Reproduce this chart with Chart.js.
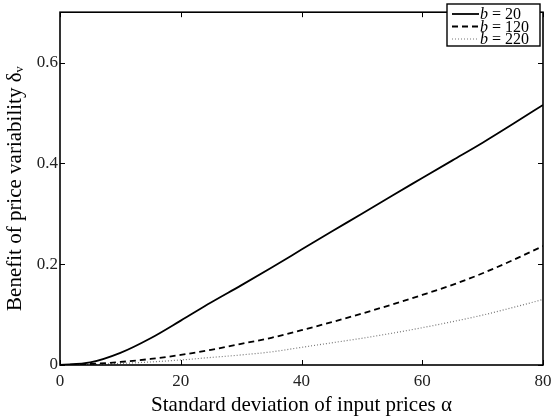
<!DOCTYPE html>
<html lang="en">
<head>
  <meta charset="UTF-8">
  <title>Benefit of price variability</title>
  <script src="https://cdn.jsdelivr.net/npm/chart.js"></script>
  <style>
    body {
      margin: 0;
      background-color: white;
    }
    #wrap {
      width: 552px;
      height: 419px;
    }
  </style>
  <script>
    // standard deviation of input prices (alpha)
    const alpha = [0, 5, 10, 15, 20, 25, 30, 35, 40, 45, 50, 55, 60, 65, 70, 75, 80];
    // benefit of price variability, one array per b
    const b20  = [0, 0.005, 0.024, 0.053, 0.088, 0.124, 0.158, 0.193, 0.229, 0.265, 0.300, 0.336, 0.371, 0.406, 0.441, 0.478, 0.516];
    const b120 = [0, 0.002, 0.006, 0.012, 0.020, 0.030, 0.042, 0.054, 0.069, 0.085, 0.102, 0.120, 0.139, 0.159, 0.182, 0.208, 0.236];
    const b220 = [0, 0.001, 0.003, 0.006, 0.010, 0.015, 0.020, 0.026, 0.035, 0.044, 0.053, 0.063, 0.074, 0.086, 0.099, 0.114, 0.130];
    const seriesNames = ["20", "120", "220"];
    const xTicks = [0, 20, 40, 60, 80];
    const yTicks = [0, 0.2, 0.4, 0.6];

    const serif = "'Liberation Serif', 'DejaVu Serif', serif";

    function punkte(werte) {
      return alpha.map((a, i) => ({ x: a, y: werte[i] }));
    }

    // frame, inward tick marks and boxed legend, like the matlab figure
    const rahmen = {
      id: "rahmen",
      afterDraw(chart) {
        const ctx = chart.ctx;
        const a = chart.chartArea;
        const xs = chart.scales.x, ys = chart.scales.y;
        ctx.save();
        ctx.strokeStyle = "black";
        ctx.lineWidth = 1;
        xTicks.forEach(v => {
          const px = Math.round(xs.getPixelForValue(v)) + 0.5;
          ctx.beginPath();
          ctx.moveTo(px, a.bottom); ctx.lineTo(px, a.bottom - 5);
          ctx.moveTo(px, a.top); ctx.lineTo(px, a.top + 5);
          ctx.stroke();
        });
        yTicks.forEach(v => {
          const py = Math.round(ys.getPixelForValue(v)) + 0.5;
          ctx.beginPath();
          ctx.moveTo(a.left, py); ctx.lineTo(a.left + 5, py);
          ctx.moveTo(a.right, py); ctx.lineTo(a.right - 5, py);
          ctx.stroke();
        });
        ctx.lineWidth = 1.6;
        ctx.strokeRect(a.left, a.top, a.right - a.left, a.bottom - a.top);

        // legend box
        const lx = 447, ly = 4, lw = 93, lh = 42;
        ctx.fillStyle = "white";
        ctx.fillRect(lx, ly, lw, lh);
        ctx.lineWidth = 1.4;
        ctx.strokeRect(lx, ly, lw, lh);
        chart.data.datasets.forEach((ds, i) => {
          const y = ly + 10 + i * 12.5;
          ctx.beginPath();
          ctx.strokeStyle = ds.borderColor;
          ctx.lineWidth = ds.borderWidth;
          ctx.setLineDash(ds.borderDash || []);
          ctx.moveTo(lx + 5, y);
          ctx.lineTo(lx + 32, y);
          ctx.stroke();
          ctx.setLineDash([]);
          ctx.fillStyle = "black";
          ctx.textBaseline = "middle";
          ctx.textAlign = "left";
          ctx.font = "italic 16px " + serif;
          ctx.fillText("b", lx + 33, y + 1);
          ctx.font = "16px " + serif;
          ctx.fillText(" = " + seriesNames[i], lx + 41, y + 1);
        });
        ctx.restore();
      }
    };

    window.onload = () => {
      new Chart(document.getElementById("grafico"), {
        type: "line",
        data: {
          datasets: [
            {
              label: "b = " + seriesNames[0],
              data: punkte(b20),
              borderColor: "black",
              borderWidth: 1.8,
              pointRadius: 0,
              cubicInterpolationMode: "monotone"
            },
            {
              label: "b = " + seriesNames[1],
              data: punkte(b120),
              borderColor: "black",
              borderWidth: 1.8,
              borderDash: [6, 4],
              pointRadius: 0,
              cubicInterpolationMode: "monotone"
            },
            {
              label: "b = " + seriesNames[2],
              data: punkte(b220),
              borderColor: "#777777",
              borderWidth: 1.2,
              borderDash: [1, 2],
              pointRadius: 0,
              cubicInterpolationMode: "monotone"
            }
          ]
        },
        options: {
          responsive: false,
          animation: false,
          layout: { padding: { top: 3, right: 9, left: 0, bottom: 0 } },
          plugins: {
            legend: { display: false },
            tooltip: { enabled: false }
          },
          scales: {
            x: {
              type: "linear",
              min: 0,
              max: 80,
              grid: { display: false, drawTicks: false },
              border: { display: false },
              afterBuildTicks: s => { s.ticks = xTicks.map(v => ({ value: v })); },
              afterFit: s => {
                s.height = 54;
                s.paddingLeft = 0;
                s.paddingRight = 0;
              },
              ticks: {
                color: "#222",
                padding: 6,
                maxRotation: 0,
                font: { family: serif, size: 17 }
              },
              title: {
                display: true,
                text: "Standard deviation of input prices α",
                color: "black",
                padding: { top: 0, bottom: 1 },
                font: { family: serif, size: 21 }
              }
            },
            y: {
              min: 0,
              max: 0.7,
              grid: { display: false, drawTicks: false },
              border: { display: false },
              afterBuildTicks: s => { s.ticks = yTicks.map(v => ({ value: v })); },
              afterFit: s => { s.width = 60; },
              ticks: {
                color: "#222",
                padding: 2,
                font: { family: serif, size: 17 }
              },
              title: {
                display: true,
                text: "Benefit of price variability δᵥ",
                color: "black",
                padding: { top: 3, bottom: 0 },
                font: { family: serif, size: 21 }
              }
            }
          }
        },
        plugins: [rahmen]
      });
    };
  </script>
</head>
<body>
  <div id="wrap">
    <canvas id="grafico" width="552" height="419"></canvas>
  </div>
</body>
</html>
